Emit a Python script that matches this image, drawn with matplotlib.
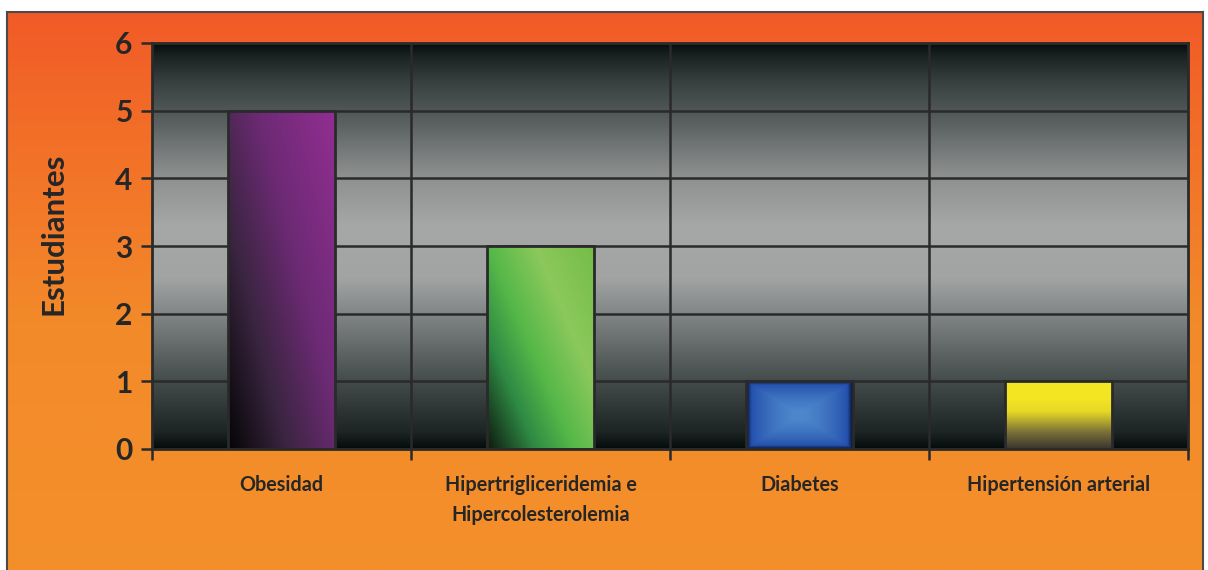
import numpy as np
import matplotlib.pyplot as plt
from matplotlib.colors import LinearSegmentedColormap, to_rgb
from matplotlib.patches import Rectangle

categories = ["Obesidad", "Hipertrigliceridemia e\nHipercolesterolemia",
              "Diabetes", "Hipertensión arterial"]
values = [5, 3, 1, 1]
y_ticks = [0, 1, 2, 3, 4, 5, 6]
y_label = "Estudiantes"

FONT = ["Lato", "DejaVu Sans"]
TXT = "#262626"

fig = plt.figure(figsize=(12.08, 5.70), dpi=100)
fig.patch.set_facecolor("white")

# orange framed background
bg = fig.add_axes([7 / 1208, -0.01, 1196 / 1208, (570 - 12) / 570 + 0.01])
bg.set_zorder(-10)
ocmap = LinearSegmentedColormap.from_list(
    "orange", [(0, "#F4902A"), (0.45, "#F38A2A"), (0.8, "#F26D28"), (1, "#F15A27")])
grad = np.linspace(0, 1, 256).reshape(-1, 1)
bg.imshow(grad, cmap=ocmap, aspect="auto", origin="lower", extent=[0, 1, 0, 1])
bg.set_xticks([]); bg.set_yticks([])
for s in bg.spines.values():
    s.set_color("#4a4a4a"); s.set_linewidth(1.5)

ax = fig.add_axes([152 / 1208, 121 / 570, 1036 / 1208, 406 / 570])
n = len(categories)
x = np.arange(n)
ax.set_xlim(-0.5, n - 0.5)
ax.set_ylim(0, 6)

# plot area gradient
pcmap = LinearSegmentedColormap.from_list(
    "plot", [(0, "#060c0c"), (0.04, "#1c2424"), (0.15, "#3e4646"), (0.3, "#767a7a"),
             (0.42, "#a2a4a4"), (0.55, "#a6a8a8"), (0.68, "#8c8e8e"), (0.8, "#5c6262"),
             (0.9, "#3a4242"), (0.97, "#1a2222"), (1, "#060c0c")])
ax.imshow(grad, cmap=pcmap, aspect="auto", origin="lower",
          extent=[-0.5, n - 0.5, 0, 6], zorder=0)

ax.set_yticks(y_ticks)
ax.yaxis.grid(True, color="#2a2a2a", linewidth=1.8, zorder=1)
for b in np.arange(0.5, n - 0.5, 1):
    ax.axvline(b, color="#2a2a2a", linewidth=1.8, zorder=1)
ax.set_axisbelow(True)

width = 0.41
bars = ax.bar(x, values, width=width, color="none", edgecolor="#2a2a2a",
              linewidth=2, zorder=4)


def diag_grad(stops, ny=200, nx=100, angle_weight=0.6):
    cm = LinearSegmentedColormap.from_list("d", stops)
    yy, xx = np.mgrid[0:1:ny * 1j, 0:1:nx * 1j]
    t = np.clip(xx * angle_weight + yy * (1 - angle_weight), 0, 1)
    return cm(t)


def box_grad(inner, outer, ny=100, nx=100):
    yy, xx = np.mgrid[-1:1:ny * 1j, -1:1:nx * 1j]
    t = np.maximum(np.abs(xx), np.abs(yy))
    t = np.clip(t, 0, 1) ** 1.6
    a = np.array(to_rgb(inner)); b = np.array(to_rgb(outer))
    img = a[None, None, :] * (1 - t[..., None]) + b[None, None, :] * t[..., None]
    edge = np.clip((t - 0.85) / 0.15, 0, 1)[..., None]
    img = img * (1 - 0.7 * edge)
    return img


yellow = LinearSegmentedColormap.from_list(
    "y", [(0, "#3a3430"), (0.25, "#7a7238"), (0.55, "#e6d826"), (0.75, "#f4e524"),
          (1, "#f5e622")])(np.linspace(0, 1, 200))[:, :3].reshape(200, 1, 3).repeat(20, axis=1)

imgs = [
    diag_grad([(0, "#050506"), (0.3, "#3a2540"), (0.6, "#6c2a74"), (1, "#922e92")],
              angle_weight=0.55),
    diag_grad([(0, "#0e1a10"), (0.25, "#2f8a44"), (0.45, "#55b848"), (0.7, "#8cc85c"),
               (1, "#74bd48")], angle_weight=0.55),
    box_grad("#4e88cc", "#1e48a8"),
    yellow,
]

for bar, img in zip(bars, imgs):
    x0, y0 = bar.get_x(), bar.get_y()
    w, h = bar.get_width(), bar.get_height()
    im = ax.imshow(img, origin="lower", aspect="auto",
                   extent=[x0, x0 + w, y0, y0 + h], zorder=3, interpolation="bilinear")
    clip = Rectangle((x0, y0), w, h, transform=ax.transData)
    im.set_clip_path(clip)

ax.set_xlim(-0.5, n - 0.5)
ax.set_ylim(0, 6)

# x ticks at category boundaries, labels at centres
ax.set_xticks(np.arange(-0.5, n, 1))
ax.set_xticklabels([])
ax.set_xticks(x, minor=True)
ax.set_xticklabels(categories, minor=True, fontsize=14.2, fontweight="bold",
                   color=TXT, family=FONT, linespacing=1.6, va="top")
ax.tick_params(axis="x", which="minor", length=0, pad=19)
ax.tick_params(axis="x", which="major", length=8, width=1.8, color="#2a2a2a",
               direction="out")
ax.tick_params(axis="y", length=8, width=1.8, color="#2a2a2a", direction="out", pad=6)
for lbl in ax.get_yticklabels():
    lbl.set_fontsize(21.5); lbl.set_fontweight("bold"); lbl.set_color(TXT)
    lbl.set_family(FONT)

ax.set_ylabel(y_label, fontsize=22.5, fontweight="bold", color=TXT, family=FONT)
ax.yaxis.set_label_coords(-0.082, 0.53)

for s in ax.spines.values():
    s.set_color("#2a2a2a"); s.set_linewidth(2)
    s.set_zorder(6)

fig.savefig("out.png", dpi=100)
